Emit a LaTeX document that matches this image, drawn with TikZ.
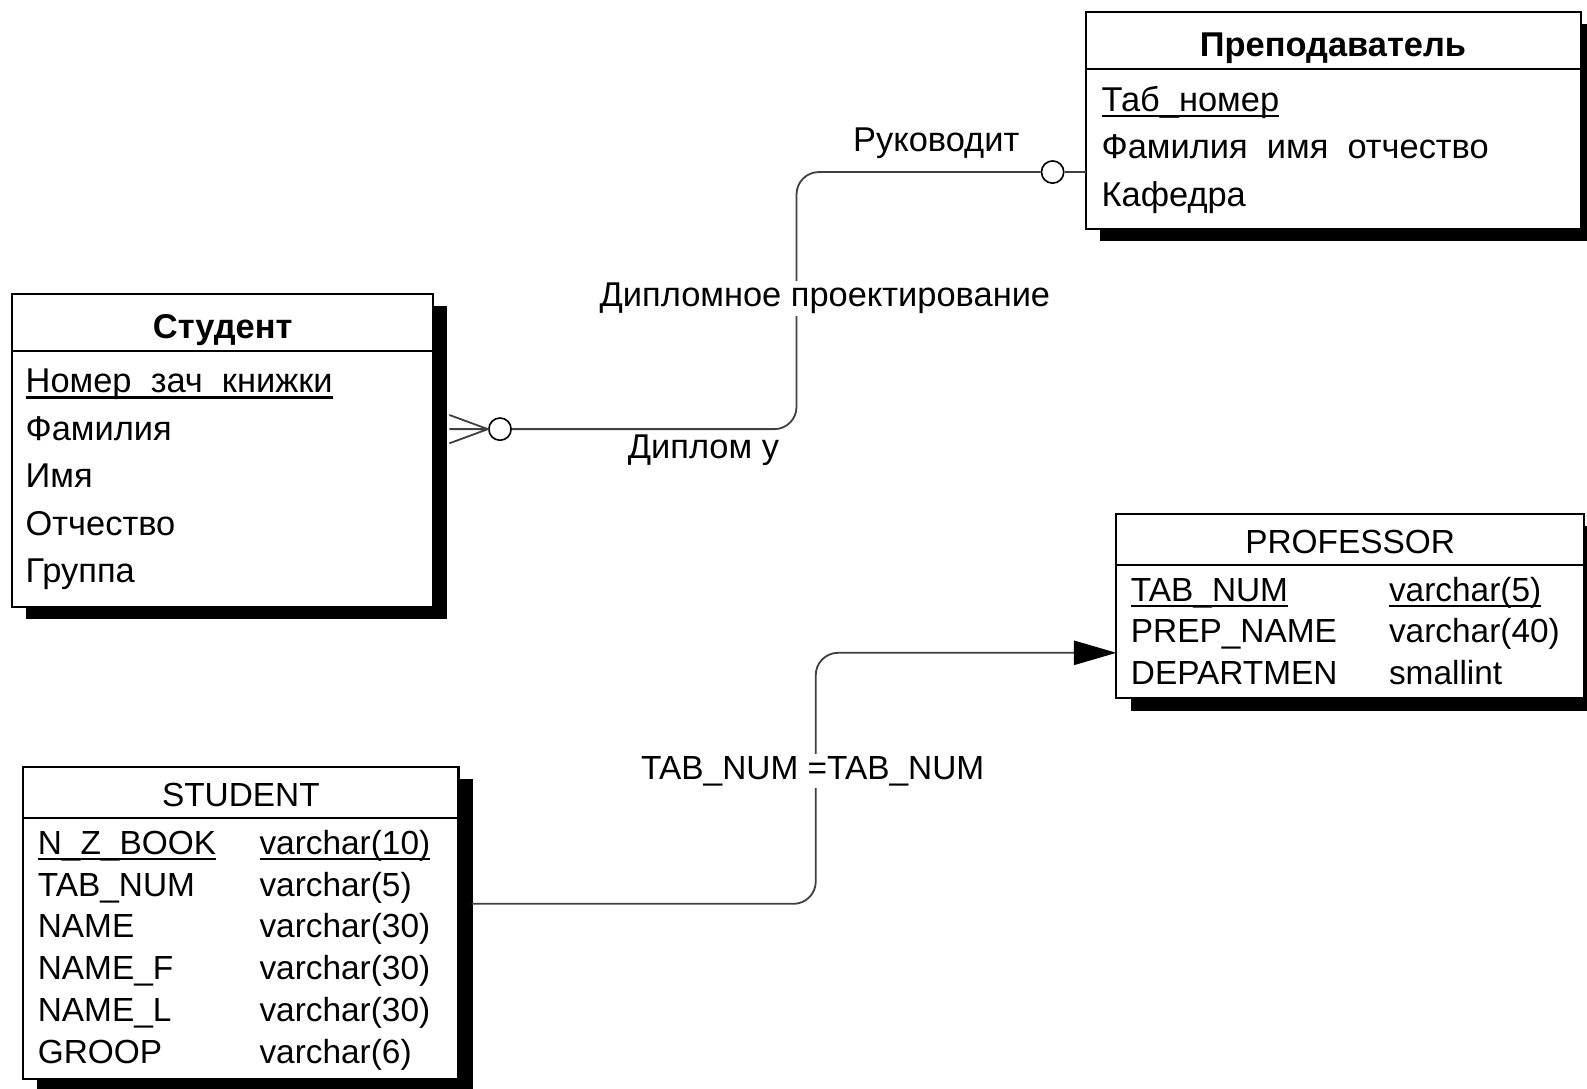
\documentclass[tikz,border=0pt]{standalone}
\usepackage{fontspec}
\setmainfont{Liberation Sans}
\usetikzlibrary{shadows,arrows.meta}
\newcommand{\keyline}[1]{\setbox0\hbox{#1}\rlap{\rule[-3pt]{\wd0}{1.2pt}}\box0}

\begin{document}
\begin{tikzpicture}[x=0.5pt, y=-0.5pt,
	entity/.style={draw, line width=1pt, fill=white, inner sep=0pt, outer sep=0pt, anchor=north west,
		drop shadow={shadow xshift=7pt, shadow yshift=-6pt, fill=black, opacity=1}},
	attr/.style={anchor=base west, inner sep=0pt, font=\fontsize{17}{20}\selectfont},
	field/.style={anchor=base west, inner sep=0pt, font=\fontsize{16.5}{20}\selectfont},
	title/.style={anchor=base, inner sep=0pt, font=\bfseries\fontsize{17}{20}\selectfont},
	ring/.style={circle, draw, fill=white, line width=0.8pt, minimum size=11pt, inner sep=0pt},
	link/.style={draw=black!75, line width=0.9pt, rounded corners=11pt},
	rel/.style={inner sep=1pt, font=\fontsize{17}{20}\selectfont}]
	\useasboundingbox (0,0) rectangle (1568,1075);
	% logical model
	\node[entity, minimum width=208pt, minimum height=155pt] (stud) at (12,290) {};
	\draw[line width=1pt] (12,347) -- (428,347);
	\node[title] (studT) at (220,334) {Студент};
	\node[attr] (stud1) at (25,388) {\keyline{Номер\_зач\_книжки}};
	\foreach \t [count=\i from 2] in {Фамилия, Имя, Отчество, Группа}{
	  \node[attr] (stud\i) at (25,341+47*\i) {\t};
	}
	\node[entity, minimum width=244.5pt, minimum height=107pt] (prep) at (1073,12) {};
	\draw[line width=1pt] (1073,68) -- (1562,68);
	\node[title] (prepT) at (1317,56) {Преподаватель};
	\node[attr] (prep1) at (1088,110) {\keyline{Таб\_номер}};
	\node[attr] (prep2) at (1088,157) {Фамилия\ \ имя\ \ отчество};
	\node[attr] (prep3) at (1088,204) {Кафедра};
	% physical model
	\node[entity, minimum width=231pt, minimum height=91pt] (prof) at (1103,508) {};
	\draw[line width=1pt] (1103,558) -- (1565,558);
	\node[field, anchor=base] (profT) at (1334,547) {PROFESSOR};
	\node[field] (profA1) at (1117,594) {\keyline{TAB\_NUM}};
	\node[field] (profB1) at (1372,594) {\keyline{varchar(5)}};
	\foreach \n/\t [count=\i from 2] in {PREP\_NAME/varchar(40), DEPARTMEN/smallint}{
	  \node[field] (profA\i) at (1117,553+41*\i) {\n};
	  \node[field] (profB\i) at (1372,553+41*\i) {\t};
	}
	\node[entity, minimum width=215pt, minimum height=154pt] (student) at (23,758) {};
	\draw[line width=1pt] (23,808) -- (453,808);
	\node[field, anchor=base] (studentT) at (238,797) {STUDENT};
	\node[field] (studentA1) at (37,844) {\keyline{N\_Z\_BOOK}};
	\node[field] (studentB1) at (256,844) {\keyline{varchar(10)}};
	\foreach \n/\t [count=\i from 2] in {TAB\_NUM/varchar(5), NAME/varchar(30), NAME\_F/varchar(30), NAME\_L/varchar(30), GROOP/varchar(6)}{
	  \node[field] (studentA\i) at (37,802.7+41.3*\i) {\n};
	  \node[field] (studentB\i) at (256,802.7+41.3*\i) {\t};
	}
	% relationships
	\node[ring] (c1) at (1040,170) {};
	\node[ring] (c2) at (494,424) {};
	\coordinate (foot) at (444,424);
	\coordinate (footA) at (444,410);
	\coordinate (footB) at (444,438);
	\coordinate (tip) at (482,424);
	\draw[link] (c2.east) -- (787,424) -- (787,170) -- (c1.west);
	\draw[link] (c1.east) -- (c1.east -| prep.west);
	\draw[link, rounded corners=0pt] (footA) -- (tip) -- (footB) (foot) -- (c2.west);
	\coordinate (fk) at (466,893);
	\coordinate (pk) at (1103,645);
	\draw[link, -{Triangle[length=21pt, width=12pt, color=black]}] (fk) -- (806,893) -- (806,645) -- (pk);
	\node[rel] (l1) at (925,142) {Руководит};
	\node[rel, fill=white] (l2) at (815,295) {Дипломное проектирование};
	\node[rel] (l3) at (695,445) {Диплом у};
	\node[rel, fill=white, font=\fontsize{16.5}{20}\selectfont] (l4) at (803,762) {TAB\_NUM =TAB\_NUM};
\end{tikzpicture}
\end{document}
